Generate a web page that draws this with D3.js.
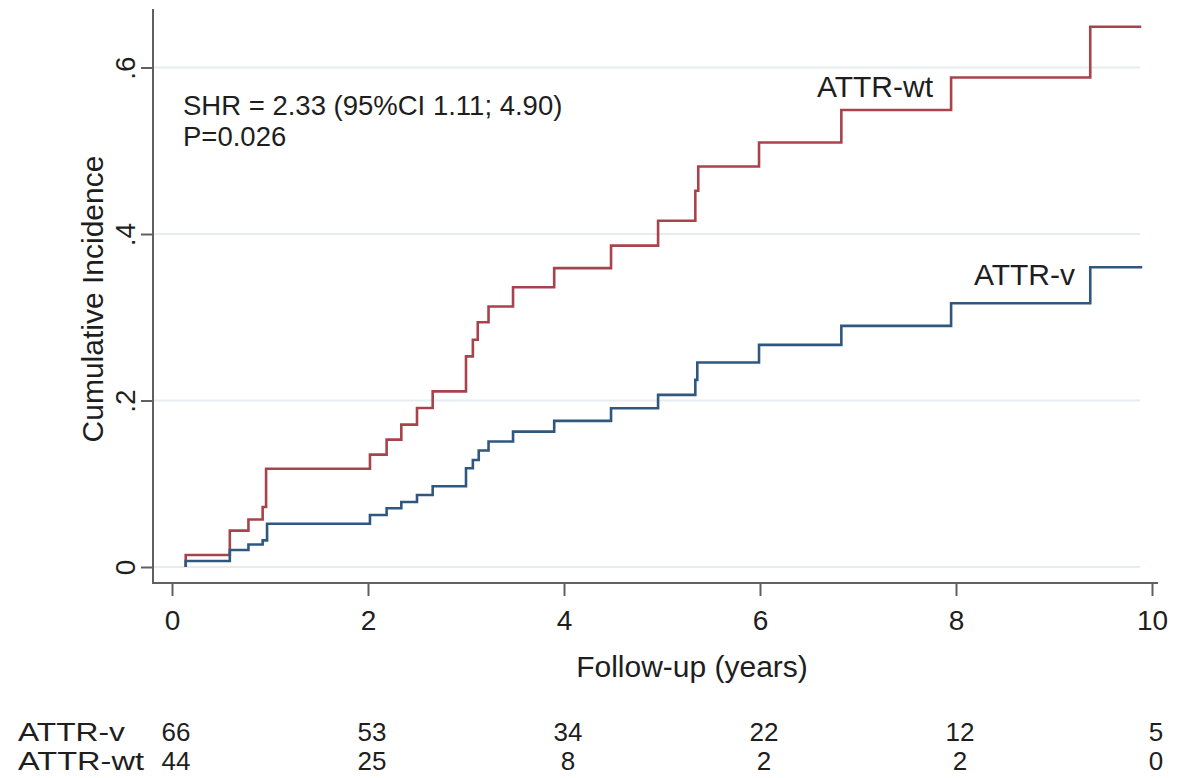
<!DOCTYPE html>
<html>
<head>
<meta charset="utf-8">
<script src="https://cdn.jsdelivr.net/npm/d3@7"></script>
<style>
  body { margin: 0; background: #fff; }
  text { font-family: "Liberation Sans", Arial, sans-serif; fill: #1e1e1e; }
</style>
</head>
<body>
<svg id="canvas"></svg>
<script>
// step times and cumulative incidence
const wtTimes = [0.14, 0.14, 0.59, 0.78, 0.925, 0.96, 2.02, 2.19, 2.34, 2.50, 2.66, 3.00, 3.07, 3.12, 3.23, 3.48, 3.90, 4.48, 4.96, 5.34, 5.37, 5.99, 6.83, 7.95, 9.37, 9.89];
const wtValues = [0, 0.0144, 0.0437, 0.057, 0.072, 0.118, 0.135, 0.153, 0.171, 0.191, 0.211, 0.253, 0.273, 0.294, 0.313, 0.336, 0.359, 0.386, 0.416, 0.452, 0.481, 0.510, 0.549, 0.588, 0.649, 0.649];

const vTimes = [0.14, 0.14, 0.59, 0.78, 0.925, 0.97, 2.02, 2.19, 2.34, 2.50, 2.66, 3.00, 3.07, 3.13, 3.23, 3.48, 3.90, 4.48, 4.96, 5.34, 5.36, 5.99, 6.83, 7.95, 9.37, 9.90];
const vValues = [0, 0.0072, 0.0204, 0.027, 0.032, 0.052, 0.0625, 0.0705, 0.078, 0.0865, 0.097, 0.1186, 0.1286, 0.140, 0.1507, 0.1626, 0.1755, 0.1907, 0.2067, 0.2248, 0.2456, 0.2668, 0.2896, 0.3168, 0.360, 0.360];

const xTicks = [0, 2, 4, 6, 8, 10];
const yTicks = [0, 0.2, 0.4, 0.6];

// numbers at risk
const riskGroups = ['ATTR-v', 'ATTR-wt'];
const riskV = [66, 53, 34, 22, 12, 5];
const riskWt = [44, 25, 8, 2, 2, 0];

const w = 1189;
const h = 778;
const red = '#a8434c';
const blue = '#30587f';

const svg = d3.select('#canvas').attr('width', w).attr('height', h);

const x = d3.scaleLinear().domain([0, 10]).range([172, 1152]);
const y = d3.scaleLinear().domain([0, 0.6]).range([567, 67.5]);

const left = 153;
const bottom = 583;

// gridlines
svg.append('g')
	.selectAll('line')
	.data(yTicks)
	.enter()
	.append('line')
	.attr('x1', left)
	.attr('x2', 1140)
	.attr('y1', (d) => y(d))
	.attr('y2', (d) => y(d))
	.attr('stroke', '#e6edf0')
	.attr('stroke-width', 2);

// axis lines
svg.append('line').attr('x1', left).attr('x2', left).attr('y1', 9).attr('y2', bottom + 1)
	.attr('stroke', '#606060').attr('stroke-width', 2);
svg.append('line').attr('x1', left - 1).attr('x2', 1158).attr('y1', bottom).attr('y2', bottom)
	.attr('stroke', '#606060').attr('stroke-width', 2);

const xAxis = d3.axisBottom(x).tickValues(xTicks).tickSize(12).tickSizeOuter(0).tickPadding(14).tickFormat(d3.format('d'));
const gx = svg.append('g').attr('transform', 'translate(0,' + (bottom + 1) + ')').call(xAxis);
gx.select('.domain').remove();
gx.selectAll('line').attr('stroke', '#606060').attr('stroke-width', 2);
gx.selectAll('text').attr('font-size', 28).attr('font-family', '"Liberation Sans", Arial, sans-serif').attr('fill', '#1e1e1e');

const yFormat = (d) => (d === 0 ? '0' : d3.format('.1f')(d).replace(/^0/, ''));
const yAxis = d3.axisLeft(y).tickValues(yTicks).tickSize(12).tickSizeOuter(0).tickFormat(yFormat);
const gy = svg.append('g').attr('transform', 'translate(' + left + ',0)').call(yAxis);
gy.select('.domain').remove();
gy.selectAll('line').attr('stroke', '#606060').attr('stroke-width', 2);
gy.selectAll('text')
	.attr('font-size', 28)
	.attr('font-family', '"Liberation Sans", Arial, sans-serif')
	.attr('fill', '#1e1e1e')
	.attr('x', 0)
	.attr('y', -18)
	.attr('dy', 0)
	.attr('text-anchor', 'middle')
	.attr('transform', 'rotate(-90)');

// titles
svg.append('text').attr('x', 692).attr('y', 677).attr('text-anchor', 'middle').attr('font-size', 30).text('Follow-up (years)');
svg.append('text').attr('transform', 'translate(103,299) rotate(-90)').attr('text-anchor', 'middle').attr('font-size', 30).text('Cumulative Incidence');

// curves
const line = d3.line().x((d) => x(d[0])).y((d) => y(d[1])).curve(d3.curveStepAfter);
const series = [
	{ times: wtTimes, values: wtValues, color: red },
	{ times: vTimes, values: vValues, color: blue }
];
series.forEach((s) => {
	svg.append('path')
		.datum(d3.zip(s.times, s.values))
		.attr('d', line)
		.attr('fill', 'none')
		.attr('stroke', s.color)
		.attr('stroke-width', 2.6);
});

// annotations
svg.append('text').attr('x', 183).attr('y', 114.5).attr('font-size', 27.5).text('SHR = 2.33 (95%CI 1.11; 4.90)');
svg.append('text').attr('x', 183).attr('y', 145.5).attr('font-size', 27.5).text('P=0.026');
svg.append('text').attr('x', 933).attr('y', 97).attr('text-anchor', 'end').attr('font-size', 30).text('ATTR-wt');
svg.append('text').attr('x', 1075).attr('y', 285).attr('text-anchor', 'end').attr('font-size', 30).text('ATTR-v');

// risk table
const riskRows = [riskV, riskWt];
riskRows.forEach((row, i) => {
	const yy = 741 + i * 29.2;
	svg.append('text').attr('x', 18).attr('y', yy).attr('font-size', 26).text(riskGroups[i])
		.attr('textLength', i === 0 ? 107 : 126).attr('lengthAdjust', 'spacingAndGlyphs');
	svg.append('g')
		.selectAll('text')
		.data(row)
		.enter()
		.append('text')
		.attr('x', (d, j) => x(xTicks[j]) + 4)
		.attr('y', yy)
		.attr('text-anchor', 'middle')
		.attr('font-size', 26)
		.text((d) => d);
});
</script>
</body>
</html>
